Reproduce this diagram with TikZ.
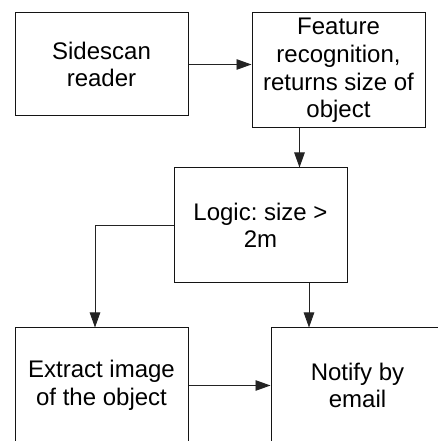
\documentclass[tikz,border=0pt]{standalone}
\usepackage{fontspec}
\setmainfont{Liberation Sans}
\usetikzlibrary{arrows.meta,calc}
\definecolor{edgeink}{RGB}{20,20,20}
\definecolor{linkink}{RGB}{35,35,35}
\begin{document}
\begin{tikzpicture}[x=1pt,y=1pt,
  stagebox/.style={draw=edgeink, line width=1pt, inner sep=0pt,
    minimum width=173pt, minimum height=115pt, align=center,
    font=\fontsize{24}{27.6}\selectfont\frenchspacing},
  link/.style={draw=linkink, line width=0.9pt,
    -{Triangle[length=15pt,width=10.5pt]}}]
  \useasboundingbox (0,0) rectangle (438,441);
  \clip (0,0) rectangle (438,441);

  % processing stages
  \node[stagebox, minimum height=103pt] (reader) at (101.5,376.5) {Sidescan\\reader};
  \node[stagebox] (feature) at (338.5,370.5) {Feature\\recognition,\\returns size of\\object};
  \node[stagebox] (logic) at (260.5,215.5) {Logic: size \textgreater\\2m};
  \node[stagebox] (extract) at (101.5,55.5) {Extract image\\of the object};
  \node[stagebox] (notify) at (357.5,55.5) {Notify by\\email};

  % x positions of the vertical links, in the overlap of the boxes they join
  \coordinate (fl) at ($(feature.south west)!0.5!(logic.north east)$);
  \coordinate (ln) at ($(notify.north west)!0.5!(logic.south east)$);
  \coordinate (le) at ([xshift=-6.5pt]extract.north);

  \draw[link] (reader.east) -- (reader.east -| feature.west);
  \draw[link] (fl |- feature.south) -- (fl |- logic.north);
  \draw[link] (logic.west) -| (le);
  \draw[link] (ln |- logic.south) -- (ln |- notify.north);
  \draw[link] (extract.east) -- (extract.east -| notify.west);
\end{tikzpicture}
\end{document}
